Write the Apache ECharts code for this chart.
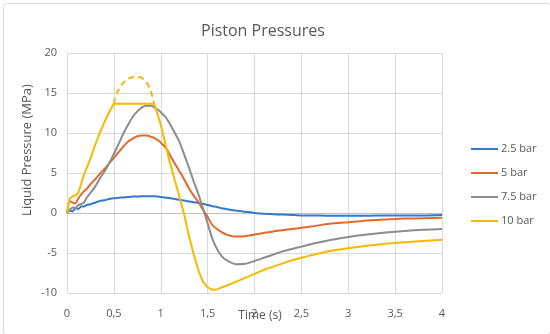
<!DOCTYPE html>
<html>
<head>
<meta charset="utf-8">
<script src="https://cdn.jsdelivr.net/npm/echarts@6/dist/echarts.min.js"></script>
<style>
  html, body { margin: 0; padding: 0; background: #fff; }
  #chart { width: 550px; height: 334px; }
</style>
</head>
<body>
<div id="chart"></div>
<script>
// Sample times (s), shared by all pressure traces
const time = [0, 0.03, 0.06, 0.09, 0.12, 0.15, 0.18, 0.21, 0.25, 0.3, 0.35, 0.4, 0.45, 0.5,
  0.55, 0.6, 0.65, 0.7, 0.75, 0.8, 0.85, 0.9, 0.93, 0.97, 1.0, 1.05, 1.1, 1.15, 1.2, 1.25,
  1.3, 1.35, 1.4, 1.45, 1.5, 1.55, 1.6, 1.65, 1.7, 1.8, 1.9, 2.0, 2.1, 2.2, 2.3, 2.4, 2.5,
  2.6, 2.8, 3.0, 3.2, 3.4, 3.6, 3.8, 4.0];

// Liquid pressure (MPa) for each supply pressure
const p25 = [0, 0.3, 0.2, 0.6, 0.5, 0.8, 0.8, 1.0, 1.1, 1.3, 1.5, 1.6, 1.75, 1.85,
  1.9, 1.95, 2.0, 2.05, 2.05, 2.1, 2.1, 2.1, 2.1, 2.05, 2.0, 1.95, 1.85, 1.75, 1.65, 1.55,
  1.45, 1.35, 1.25, 1.15, 1.0, 0.85, 0.75, 0.6, 0.5, 0.3, 0.15, 0.0, -0.1, -0.15, -0.2, -0.25, -0.3,
  -0.3, -0.35, -0.35, -0.35, -0.3, -0.3, -0.3, -0.25];
const p5 = [0, 1.5, 1.3, 1.2, 1.8, 2.3, 2.7, 3.0, 3.6, 4.2, 4.9, 5.5, 6.2, 6.9,
  7.6, 8.3, 8.9, 9.3, 9.6, 9.7, 9.7, 9.5, 9.4, 9.1, 8.8, 8.2, 7.2, 6.2, 5.2, 4.2,
  3.1, 2.2, 1.4, 0.4, -0.5, -1.5, -2.0, -2.4, -2.7, -2.95, -2.9, -2.7, -2.5, -2.3, -2.15, -2.0, -1.85,
  -1.7, -1.35, -1.15, -0.95, -0.8, -0.7, -0.65, -0.6];
const p75 = [0, 0.4, 0.7, 0.6, 1.0, 1.1, 1.3, 1.9, 2.5, 3.3, 4.3, 5.2, 6.2, 7.4,
  8.6, 9.9, 11.0, 12.0, 12.7, 13.2, 13.4, 13.4, 13.2, 12.9, 12.6, 12.0, 11.1, 10.0, 8.9, 7.3,
  5.7, 4.0, 2.4, 0.6, -1.3, -3.2, -4.5, -5.4, -5.9, -6.4, -6.35, -6.0, -5.6, -5.2, -4.8, -4.5, -4.2,
  -3.9, -3.4, -3.0, -2.7, -2.45, -2.25, -2.1, -2.0];
const p10 = [0, 1.8, 2.1, 2.2, 2.5, 3.6, 4.8, 5.6, 6.8, 8.5, 10.0, 11.4, 12.6, 13.65,
  13.65, 13.65, 13.65, 13.65, 13.65, 13.65, 13.65, 13.65, 13.65, 12.2, 11.0, 8.6, 6.2, 4.1, 2.0, -0.2,
  -2.8, -5.1, -7.1, -8.6, -9.3, -9.6, -9.55, -9.3, -9.1, -8.6, -8.1, -7.6, -7.1, -6.7, -6.3, -5.9, -5.6,
  -5.3, -4.75, -4.4, -4.1, -3.85, -3.65, -3.5, -3.35];

// Estimated peak of the 10 bar trace above the sensor limit
const peakTime = [0.5, 0.52, 0.56, 0.62, 0.68, 0.75, 0.82, 0.87, 0.91, 0.93];
const peakP10 = [13.65, 14.6, 15.6, 16.5, 16.9, 17.05, 16.7, 15.9, 14.6, 13.65];

const seriesNames = ['2.5 bar', '5 bar', '7.5 bar', '10 bar'];
const xTickLabels = ['0', '0,5', '1', '1,5', '2', '2,5', '3', '3,5', '4'];

const colors = ['#3379cc', '#e0692c', '#8c8c8c', '#f7b800'];
const smoothing = [0.2, 0.2, 0.2, 0];
const textColor = '#595959';
const font = 'Open Sans, Noto Sans, sans-serif';

const pair = (xs, ys) => xs.map((x, i) => [x, ys[i]]);
const traces = [p25, p5, p75, p10];

const chart = echarts.init(document.getElementById('chart'), null, { renderer: 'canvas' });

const series = traces.map((vals, i) => ({
  name: seriesNames[i],
  type: 'line',
  data: pair(time, vals),
  symbol: 'none',
  smooth: smoothing[i],
  lineStyle: { color: colors[i], width: 2 },
  itemStyle: { color: colors[i] },
  z: 3 + i
}));
series.push({
  name: '10 bar peak',
  type: 'line',
  data: pair(peakTime, peakP10),
  symbol: 'none',
  smooth: 0.4,
  lineStyle: { color: colors[3], width: 2, type: [6, 4] },
  itemStyle: { color: colors[3] },
  z: 7
});

chart.setOption({
  animation: false,
  backgroundColor: '#fff',
  title: {
    text: 'Piston Pressures',
    left: 196,
    top: 18,
    textStyle: { fontFamily: font, fontSize: 16, fontWeight: 'normal', color: textColor }
  },
  grid: { left: 67, right: 108, top: 53, bottom: 41 },
  legend: {
    data: seriesNames,
    orient: 'vertical',
    left: 466,
    top: 137,
    icon: 'rect',
    itemWidth: 27,
    itemHeight: 2,
    itemGap: 10,
    textStyle: { fontFamily: font, fontSize: 11, color: textColor, padding: [0, 0, 0, -2], lineHeight: 14 }
  },
  xAxis: {
    type: 'value',
    min: 0,
    max: 4,
    interval: 0.5,
    axisLine: { show: true, onZero: true, lineStyle: { color: '#bfbfbf', width: 1 } },
    axisTick: { show: false },
    axisLabel: {
      margin: 15,
      fontFamily: font,
      fontSize: 11,
      color: textColor,
      formatter: v => xTickLabels[Math.round(v / 0.5)]
    },
    splitLine: { show: true, lineStyle: { color: '#d9d9d9', width: 1 } }
  },
  yAxis: {
    type: 'value',
    min: -10,
    max: 20,
    interval: 5,
    axisLine: { show: true, lineStyle: { color: '#d9d9d9', width: 1 } },
    axisTick: { show: false },
    axisLabel: { margin: 10, fontFamily: font, fontSize: 11, color: textColor },
    splitLine: { show: true, lineStyle: { color: '#d9d9d9', width: 1 } }
  },
  graphic: [
    {
      type: 'rect',
      left: 1, top: 1,
      shape: { width: 547, height: 331, r: 3 },
      style: { fill: 'none', stroke: '#d9d9d9', lineWidth: 1 },
      silent: true
    },
    {
      type: 'text',
      x: 27, y: 150,
      rotation: Math.PI / 2,
      style: {
        text: 'Liquid Pressure (MPa)',
        fontFamily: font, fontSize: 13, fill: textColor,
        align: 'center', verticalAlign: 'middle'
      }
    },
    {
      type: 'text',
      x: 260, y: 316,
      style: {
        text: 'Time (s)',
        fontFamily: font, fontSize: 12, fill: textColor,
        align: 'center', verticalAlign: 'middle'
      }
    }
  ],
  series: series
});
</script>
</body>
</html>
